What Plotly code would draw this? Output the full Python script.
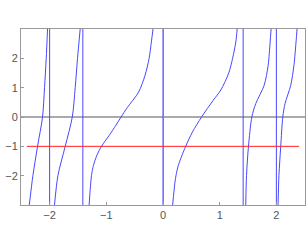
import plotly.graph_objects as go

# Branches of the plotted curve
branch_a_x = [-2.359, -2.295, -2.213, -2.125, -2.09, -2.06, -2.037]
branch_a_y = [-3, -2, -1, 0, 1, 2, 3]

branch_b_x = [-1.914, -1.854, -1.725, -1.60, -1.549, -1.508, -1.461]
branch_b_y = [-3, -2, -1, 0, 1, 2, 3]

branch_c_x = [-1.303, -1.285, -1.262, -1.227, -1.165, -1.085, -0.95, -0.83, -0.74, -0.63, -0.43, -0.317, -0.246, -0.205, -0.176]
branch_c_y = [-3, -2.5, -2, -1.65, -1.3, -1, -0.63, -0.28, 0, 0.32, 0.85, 1.42, 1.99, 2.56, 3]

branch_d_x = [0.17, 0.211, 0.229, 0.27, 0.40, 0.52, 0.68, 0.886, 1.02, 1.16, 1.227, 1.255, 1.285, 1.308]
branch_d_y = [-3, -2.22, -2, -1.65, -1, -0.51, 0, 0.57, 0.92, 1.5, 1.99, 2.25, 2.56, 3]

branch_e_x = [1.46, 1.473, 1.508, 1.567, 1.637, 1.784, 1.855, 1.89, 1.907]
branch_e_y = [-3, -2, -1, 0, 0.46, 1.08, 1.76, 2.56, 3]

branch_f_x = [2.03, 2.045, 2.077, 2.113, 2.153, 2.253, 2.31, 2.347, 2.365]
branch_f_y = [-3, -2, -1, 0, 0.46, 1.08, 1.76, 2.56, 3]

# Vertical jump segments at the poles
pole_x = [-2.0, -1.414, 0.0, 1.414, 2.0]
y_limits = [-3, 3]

# Horizontal reference line
ref_x = [-2.4, 2.4]
ref_y = [-1, -1]

x_ticks = [-2, -1, 0, 1, 2]
y_ticks = [-2, -1, 0, 1, 2]

blue = "#4848ff"
red = "#ff2020"

fig = go.Figure()

branches = [
    (branch_a_x, branch_a_y), (branch_b_x, branch_b_y), (branch_c_x, branch_c_y),
    (branch_d_x, branch_d_y), (branch_e_x, branch_e_y), (branch_f_x, branch_f_y),
]
for bx, by in branches:
    fig.add_trace(go.Scatter(x=bx, y=by, mode="lines",
                             line=dict(color=blue, width=1, shape="spline", smoothing=0.8),
                             hoverinfo="skip"))

vx, vy = [], []
for p in pole_x:
    vx += [p, p, None]
    vy += [y_limits[0], y_limits[1], None]
fig.add_trace(go.Scatter(x=vx, y=vy, mode="lines", line=dict(color=blue, width=1), hoverinfo="skip"))

fig.add_trace(go.Scatter(x=ref_x, y=ref_y, mode="lines", line=dict(color=red, width=1), hoverinfo="skip"))

axis_common = dict(
    ticks="inside", ticklen=3, tickcolor="#999", tickwidth=1,
    showline=True, mirror=True, linecolor="#999", linewidth=1,
    showgrid=False, automargin=False,
    tickfont=dict(family="Liberation Sans, Arial", size=11, color="#555"),
)

fig.update_layout(
    width=306, height=250,
    margin=dict(l=21, r=1, t=29, b=45),
    plot_bgcolor="white", paper_bgcolor="white",
    showlegend=False,
    xaxis=dict(range=[-2.505, 2.505], tickvals=x_ticks, zeroline=True,
               zerolinecolor="#aaa", zerolinewidth=1, **axis_common),
    yaxis=dict(range=[-3, 3], tickvals=y_ticks, zeroline=True,
               zerolinecolor="#aaa", zerolinewidth=1.5, **axis_common),
)

fig.write_html("out.html", config={"displayModeBar": False},
               post_script="document.body.style.margin='0';document.body.style.overflow='hidden';")
